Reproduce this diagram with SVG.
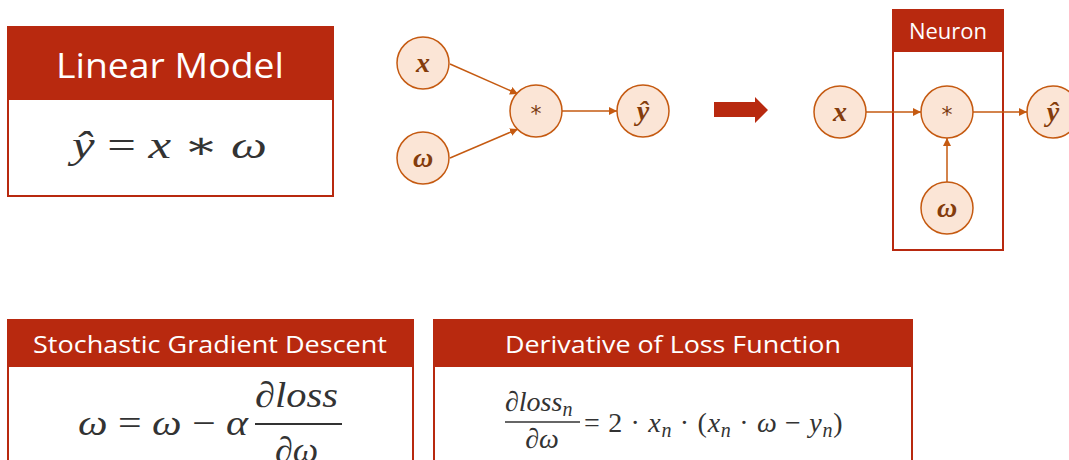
<svg xmlns="http://www.w3.org/2000/svg" width="1069" height="460" viewBox="0 0 1069 460">
<style>
.hdr{fill:#B8290F}
.box{fill:#fff;stroke:#B8290F;stroke-width:2}
.ht{font-family:"Open Sans","Noto Sans",sans-serif;fill:#fff;text-anchor:middle}
.node circle{fill:#FBE5D6;stroke:#C55A11;stroke-width:1.5}
.node text{font-family:"Liberation Serif","DejaVu Serif",serif;font-style:italic;font-weight:bold;fill:#843C0C;font-size:28px;text-anchor:middle}
.node text.op{font-style:normal;font-weight:normal;font-family:"DejaVu Sans",sans-serif;font-size:22px;fill:#7a3a10}
.conn line{stroke:#C55A11;stroke-width:1.5;marker-end:url(#ah)}
.m{font-family:"Liberation Serif","DejaVu Serif",serif;fill:#333;}
.i{font-style:italic}
</style>
<defs>
<marker id="ah" viewBox="0 0 10 10" refX="10" refY="5" markerWidth="8" markerHeight="8" markerUnits="userSpaceOnUse" orient="auto">
<path d="M0,0 L10,5 L0,10 z" fill="#C55A11"/>
</marker>
</defs>

<g id="linear-model">
<rect class="box" x="8" y="27" width="325" height="169"/>
<rect class="hdr" x="8" y="27" width="325" height="73"/>
<text class="ht" x="170" y="78" font-size="34" textLength="228" lengthAdjust="spacingAndGlyphs">Linear Model</text>
<text class="m" x="72" y="158" font-size="38" textLength="195" lengthAdjust="spacingAndGlyphs"><tspan class="i">ŷ</tspan> = <tspan class="i">x</tspan> ∗ <tspan class="i">ω</tspan></text>
</g>

<g id="sgd">
<rect class="box" x="8" y="320" width="405" height="150"/>
<rect class="hdr" x="8" y="320" width="405" height="47"/>
<text class="ht" x="210" y="353" font-size="24" textLength="354" lengthAdjust="spacingAndGlyphs">Stochastic Gradient Descent</text>
<text class="m" x="78" y="435" font-size="36" textLength="170" lengthAdjust="spacingAndGlyphs"><tspan class="i">ω</tspan> = <tspan class="i">ω</tspan> − <tspan class="i">α</tspan></text>
<text class="m i" x="255" y="407" font-size="36" textLength="83" lengthAdjust="spacingAndGlyphs">∂loss</text>
<line x1="255" y1="424" x2="342" y2="424" stroke="#333" stroke-width="2"/>
<text class="m i" x="275" y="462" font-size="36">∂ω</text>
</g>

<g id="derivative">
<rect class="box" x="434" y="320" width="478" height="150"/>
<rect class="hdr" x="434" y="320" width="478" height="47"/>
<text class="ht" x="673" y="353" font-size="24" textLength="336" lengthAdjust="spacingAndGlyphs">Derivative of Loss Function</text>
<text class="m i" x="505" y="411" font-size="28">∂loss<tspan font-size="20" dy="5">n</tspan></text>
<line x1="505" y1="422" x2="580" y2="422" stroke="#333" stroke-width="1.5"/>
<text class="m i" x="542" y="448" font-size="28" text-anchor="middle">∂ω</text>
<text class="m" x="584" y="432" font-size="28" letter-spacing="0.7">= 2 · <tspan class="i">x</tspan><tspan class="i" font-size="20" dy="5">n</tspan><tspan dy="-5"> · (</tspan><tspan class="i">x</tspan><tspan class="i" font-size="20" dy="5">n</tspan><tspan dy="-5"> · </tspan><tspan class="i">ω</tspan> − <tspan class="i">y</tspan><tspan class="i" font-size="20" dy="5">n</tspan><tspan dy="-5">)</tspan></text>
</g>

<g id="big-arrow">
<path d="M714,102 L755,102 L755,97 L768,110 L755,123 L755,117 L714,117 z" fill="#B8290F"/>
</g>

<g id="neuron">
<rect class="box" x="893" y="10" width="110" height="240" style="fill:none"/>
<rect class="hdr" x="893" y="10" width="110" height="42"/>
<text class="ht" x="948" y="39" font-size="22">Neuron</text>
</g>

<g id="connectors" class="conn">
<line x1="450" y1="64" x2="518" y2="94"/>
<line x1="450" y1="158" x2="518" y2="129"/>
<line x1="562" y1="111" x2="617" y2="111"/>
<line x1="866" y1="112" x2="921" y2="112"/>
<line x1="973" y1="112" x2="1027" y2="112"/>
<line x1="947" y1="182" x2="947" y2="138"/>
</g>

<g id="n-x1" class="node"><circle cx="423" cy="63" r="26"/><text x="423" y="72">x</text></g>
<g id="n-w1" class="node"><circle cx="423" cy="158" r="26"/><text x="423" y="167">ω</text></g>
<g id="n-mul1" class="node"><circle cx="536" cy="111" r="26"/><text class="op" x="536" y="121">*</text></g>
<g id="n-y1" class="node"><circle cx="643" cy="111" r="26"/><text x="643" y="120">ŷ</text></g>

<g id="n-x2" class="node"><circle cx="840" cy="112" r="26"/><text x="840" y="121">x</text></g>
<g id="n-mul2" class="node"><circle cx="947" cy="112" r="26"/><text class="op" x="947" y="122">*</text></g>
<g id="n-y2" class="node"><circle cx="1053" cy="112" r="26"/><text x="1053" y="121">ŷ</text></g>
<g id="n-w2" class="node"><circle cx="947" cy="208" r="26"/><text x="947" y="217">ω</text></g>
</svg>
